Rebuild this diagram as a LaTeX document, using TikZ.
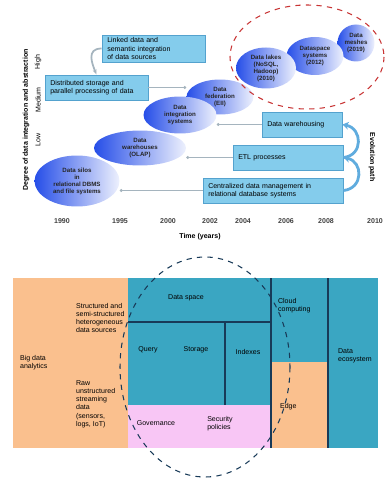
\documentclass[tikz,border=0pt]{standalone}
\usepackage{fontspec}
\setmainfont{Liberation Sans}
\usetikzlibrary{shapes.geometric,arrows.meta,positioning}
\definecolor{boxblue}{RGB}{132,204,236}
\definecolor{boxedge}{RGB}{84,162,206}
\definecolor{ballblue}{RGB}{38,78,232}
\definecolor{ringred}{RGB}{200,52,52}
\definecolor{linkgray}{RGB}{165,180,190}
\definecolor{loopblue}{RGB}{96,172,222}
\definecolor{peach}{RGB}{250,192,142}
\definecolor{tealbox}{RGB}{58,166,194}
\definecolor{pinkbox}{RGB}{248,198,245}
\definecolor{navyline}{RGB}{24,58,88}

\begin{document}
\begin{tikzpicture}[x=0.02cm,y=-0.02cm,
  every node/.style={font=\fontsize{4}{4.7}\selectfont, inner sep=1pt},
  ball/.style={ellipse, inner sep=0pt, left color=ballblue, middle color=ballblue!62, right color=ballblue!8,
    align=center, text=black!85, font=\fontsize{3.5}{4}\selectfont\bfseries},
  infobox/.style={draw=boxedge, fill=boxblue, line width=0.5pt, align=left, inner xsep=3pt,
    minimum height=0.5cm, text width=#1},
  link/.style={draw=linkgray, line width=0.4pt, {Circle[length=1.6pt]}-},
  loop/.style={draw=loopblue, line width=1.6pt, -{Stealth[length=3.5pt,width=4.5pt]}},
  block/.style={align=left, anchor=west}]
\useasboundingbox (0,0) rectangle (389,479);

\node[rotate=90, font=\fontsize{4}{4.7}\selectfont\bfseries] (ylab) at (26,120) {Degree of data integration and abstraction};
\node[rotate=90] (yhi) at (38,62) {High};
\node[rotate=90] (ymid) at (38,100) {Medium};
\node[rotate=90] (ylo) at (38,140) {Low};

\node[ball, minimum width=0.74cm, minimum height=0.74cm] (E7) at (356,43) {Data\\meshes\\(2019)};
\node[ball, minimum width=1.14cm, minimum height=0.76cm] (E6) at (315,56) {Dataspace\\systems\\(2012)};
\node[ball, minimum width=1.2cm, minimum height=0.82cm] (E5) at (266,68) {Data lakes\\(NoSQL,\\Hadoop)\\(2010)};
\node[ball, minimum width=1.34cm, minimum height=0.7cm] (E4) at (220,97) {Data\\federation\\(EII)};
\node[ball, minimum width=1.46cm, minimum height=0.74cm] (E3) at (180,115) {Data\\integration\\systems};
\node[ball, minimum width=1.84cm, minimum height=0.7cm] (E2) at (140,148) {Data\\warehouses\\(OLAP)};
\node[ball, minimum width=1.7cm, minimum height=1.02cm] (E1) at (77,181) {Data silos\\in\\relational DBMS\\and file systems};

\draw[ringred, dashed, line width=0.6pt] (307,57) ellipse [x radius=77, y radius=52];

\node[infobox=1.85cm, minimum height=0.54cm] (box1) at (153.5,48.5) {Linked data and\\semantic integration\\of data sources};
\node[infobox=1.85cm] (box2) at (96.5,87.5) {Distributed storage and\\parallel processing of data};
\node[infobox=1.39cm] (boxA) at (302,124.5) {Data warehousing};
\node[infobox=1.99cm] (boxB) at (288,157.5) {ETL processes};
\node[infobox=2.59cm] (boxC) at (273,190.5) {Centralized data management in\\relational database systems};

\draw[draw=linkgray, line width=1pt, -{Stealth[length=3pt]}] (box1.west) .. controls +(-16,0) and +(-4,-10) .. (box2.north);
\draw[link] (E4.west |- box2.east) -- (box2.east);
\draw[link] (E3.east |- boxA.west) -- (boxA.west);
\draw[link] (E2.east |- boxB.west) -- (boxB.west);
\draw[link] (E1.east |- boxC.west) -- (boxC.west);

\draw[loop] (boxC.east) .. controls +(20,-2) and +(20,4) .. (boxB.east);
\draw[loop] (boxB.east) .. controls +(20,-2) and +(20,4) .. (boxA.east);
\node[rotate=-90, font=\fontsize{4}{4.7}\selectfont\bfseries] (evo) at (372,157) {Evolution path};

\foreach \yr/\xx [count=\i] in {1990/62,1995/120,2000/168,2002/210,2004/243,2006/286,2008/326,2010/375}
  \node[text=black!75, font=\fontsize{4}{4.7}\selectfont\bfseries] (yr\i) at (\xx,221) {\yr};
\node[font=\fontsize{4}{4.7}\selectfont\bfseries] (xlab) at (200,237) {Time (years)};

\fill[peach] (13,278) rectangle (128,448);
\fill[tealbox] (128,278) rectangle (271,405);
\fill[pinkbox] (128,405) rectangle (271,448);
\fill[tealbox] (271,278) rectangle (328,362);
\fill[peach] (271,362) rectangle (328,448);
\fill[tealbox] (328,278) rectangle (378,448);
\draw[navyline, line width=0.8pt] (128,322) -- (271,322);
\draw[navyline, line width=0.8pt] (225,322) -- (225,405);
\draw[navyline, line width=1.2pt] (271,278) -- (271,448);
\draw[navyline, line width=0.8pt] (328,278) -- (328,448);

\node[block] (bigdata) at (18,363) {Big data\\analytics};
\node[block] (srcup) at (74,318) {Structured and\\semi-structured\\heterogeneous\\data sources};
\node[block] (srclow) at (74,404) {Raw\\unstructured\\streaming\\data\\(sensors,\\logs, IoT)};
\node (space) at (186,298) {Data space};
\node (query) at (148,350) {Query};
\node (store) at (196,350) {Storage};
\node (index) at (248,352) {Indexes};
\node (gov) at (156,423) {Governance};
\node[align=left] (policy) at (220,424) {Security\\policies};
\node[block] (cloud) at (276,306) {Cloud\\computing};
\node[block] (edge) at (278,407) {Edge};
\node[block] (ecosys) at (336,356) {Data\\ecosystem};

\draw[navyline, dashed, line width=0.6pt] (205,367) ellipse [x radius=85, y radius=110];
\end{tikzpicture}
\end{document}
